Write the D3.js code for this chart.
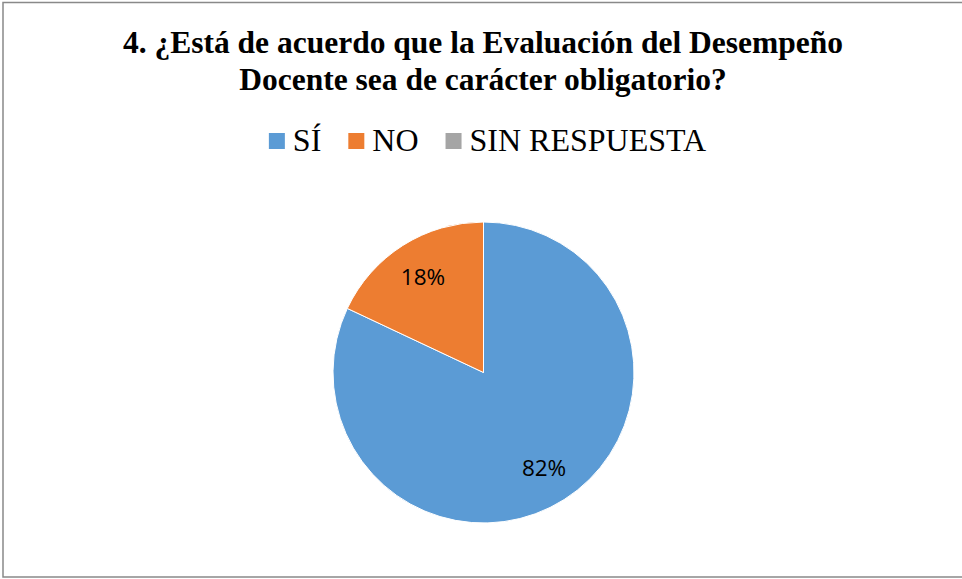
<!DOCTYPE html>
<html>
<head>
<meta charset="utf-8">
<script src="https://cdn.jsdelivr.net/npm/d3@7"></script>
<style>
  html, body { margin: 0; padding: 0; background: #ffffff; }
  svg { display: block; }
</style>
</head>
<body>
<svg id="chart" width="962" height="579"></svg>
<script>
const titleLines = ["4. ¿Está de acuerdo que la Evaluación del Desempeño", "Docente sea de carácter obligatorio?"];
const categories = ["SÍ", "NO", "SIN RESPUESTA"];
const values = [82, 18, 0];
const colors = ["#5B9BD5", "#ED7D31", "#A5A5A5"];

const svg = d3.select("#chart");
const W = 962, H = 579;

// border
svg.append("rect")
  .attr("x", 3).attr("y", 2.5)
  .attr("width", W + 10).attr("height", 574.5)
  .attr("fill", "#ffffff")
  .attr("stroke", "#898989").attr("stroke-width", 1.5);

const cx = 483.5, cy = 372.5, R = 150.5;

// title
const title = svg.append("text")
  .attr("text-anchor", "middle")
  .attr("font-family", "Liberation Serif, Times New Roman, serif")
  .attr("font-weight", "bold")
  .attr("font-size", 31.5)
  .attr("fill", "#000");
titleLines.forEach((t, i) => {
  title.append("tspan").attr("x", 483).attr("y", 53 + i * 37).text(t);
});

// legend
const legend = svg.append("g")
  .attr("font-family", "Liberation Serif, Times New Roman, serif")
  .attr("font-size", 32);
const itemGap = 27, sq = 16, sqGap = 8;
const items = legend.selectAll("g").data(categories).join("g");
items.append("rect").attr("width", sq).attr("height", sq).attr("y", 133)
  .attr("fill", (d, i) => colors[i]);
items.append("text").attr("x", sq + sqGap).attr("y", 151).text(d => d).attr("fill", "#000");
let widths = [];
items.each(function () {
  widths.push(sq + sqGap + d3.select(this).select("text").node().getComputedTextLength());
});
const total = d3.sum(widths) + itemGap * (widths.length - 1);
let xpos = 487.5 - total / 2;
items.attr("transform", (d, i) => {
  const x = xpos; xpos += widths[i] + itemGap; return `translate(${x},0)`;
});

// pie
const pie = d3.pie().sort(null).value(d => d.v);
const data = pie(categories.map((c, i) => ({ c, v: values[i], col: colors[i] })));
const arc = d3.arc().innerRadius(0).outerRadius(R);
const labelArc = d3.arc().innerRadius(113).outerRadius(113);
const g = svg.append("g").attr("transform", `translate(${cx},${cy})`);
g.selectAll("path").data(data.filter(d => d.data.v > 0)).join("path")
  .attr("d", arc)
  .attr("fill", d => d.data.col)
  .attr("stroke", "#ffffff").attr("stroke-width", 1);

g.selectAll("text.lbl").data(data.filter(d => d.data.v > 0)).join("text")
  .attr("class", "lbl")
  .attr("transform", d => `translate(${labelArc.centroid(d)})`)
  .attr("text-anchor", "middle")
  .attr("dy", "0.36em")
  .attr("font-family", "Open Sans, Noto Sans, sans-serif")
  .attr("font-size", 22.5)
  .attr("fill", "#000")
  .text(d => d.data.v + "%");
</script>
</body>
</html>
